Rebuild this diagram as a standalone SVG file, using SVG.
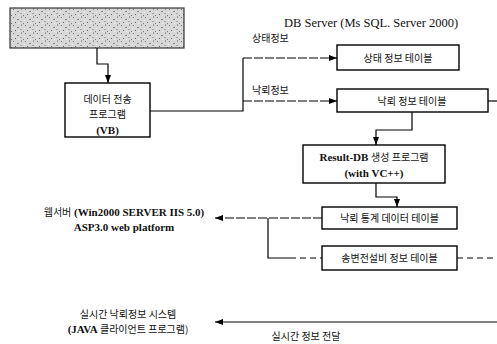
<svg xmlns="http://www.w3.org/2000/svg" width="497" height="344" viewBox="0 0 497 344">
<defs>
<pattern id="noise" width="12" height="8" patternUnits="userSpaceOnUse">
<rect width="12" height="8" fill="#d8d8d8"/>
<rect x="1" y="1" width="1" height="1" fill="#777"/>
<rect x="5" y="3" width="2" height="1" fill="#888"/>
<rect x="9" y="0" width="1" height="2" fill="#999"/>
<rect x="3" y="6" width="1" height="1" fill="#666"/>
<rect x="8" y="5" width="2" height="1" fill="#aaa"/>
<rect x="11" y="7" width="1" height="1" fill="#777"/>
<rect x="0" y="4" width="1" height="1" fill="#f0f0f0"/>
<rect x="6" y="7" width="1" height="1" fill="#f4f4f4"/>
</pattern>
<marker id="ah" viewBox="0 0 8 6" refX="8" refY="3" markerWidth="8" markerHeight="6" orient="auto" markerUnits="userSpaceOnUse">
<path d="M0,0 L8,3 L0,6 z" fill="#000"/>
</marker>
</defs>
<style>
.box{fill:#fff;stroke:#000;stroke-width:1.4}
.ln{fill:none;stroke:#000;stroke-width:1.2}
.dl{fill:none;stroke:#000;stroke-width:1.2;stroke-dasharray:9 2}
.dd{fill:none;stroke:#000;stroke-width:1;stroke-dasharray:6 4}
.ko{font-family:"Noto Sans CJK KR","Noto Sans",sans-serif;font-size:10px;fill:#111}
.en{font-family:"Liberation Serif","Noto Sans CJK KR",serif;font-size:12.5px;fill:#111}
.eb{font-family:"Liberation Serif","Noto Sans CJK KR",serif;font-size:11px;font-weight:bold;fill:#111}
</style>
<rect width="497" height="344" fill="#fff"/>

<g id="source">
<rect x="10" y="8" width="174" height="40" fill="url(#noise)" stroke="#333" stroke-width="1.2"/>
</g>

<g id="vb">
<rect class="box" x="65" y="83" width="85" height="54"/>
<text class="ko" x="107.5" y="103" text-anchor="middle">데이터 전송</text>
<text class="ko" x="107.5" y="118" text-anchor="middle">프로그램</text>
<text class="eb" x="107.5" y="134" text-anchor="middle">(VB)</text>
</g>

<g id="title">
<text class="en" x="284" y="27">DB Server (Ms SQL. Server 2000)</text>
</g>

<g id="state">
<rect class="box" x="337" y="45" width="122" height="25"/>
<text class="ko" x="398" y="61.5" text-anchor="middle">상태 정보 테이블</text>
</g>

<g id="lightning">
<rect class="box" x="337" y="89" width="151" height="23"/>
<text class="ko" x="412" y="104.5" text-anchor="middle">낙뢰 정보 테이블</text>
</g>

<g id="result">
<rect class="box" x="303" y="145" width="142" height="38"/>
<text x="374" y="161" text-anchor="middle"><tspan class="eb" font-size="10">Result-DB </tspan><tspan class="ko">생성 프로그램</tspan></text>
<text class="eb" x="374" y="177" text-anchor="middle" font-size="10">(with VC++)</text>
</g>

<g id="stats">
<rect class="box" x="322" y="207" width="135" height="22"/>
<text class="ko" x="389.5" y="222" text-anchor="middle">낙뢰 통계 데이터 테이블</text>
</g>

<g id="facility">
<rect class="box" x="322" y="246" width="135" height="24"/>
<text class="ko" x="389.5" y="262" text-anchor="middle">송변전설비 정보 테이블</text>
</g>

<g id="web">
<text class="eb" x="124" y="216" text-anchor="middle"><tspan class="ko" font-weight="normal">웹서버</tspan> (Win2000 SERVER IIS 5.0)</text>
<text class="eb" x="124" y="231" text-anchor="middle">ASP3.0 web platform</text>
</g>

<g id="client">
<text class="ko" x="128" y="318" text-anchor="middle">실시간 낙뢰정보 시스템</text>
<text x="128" y="333" text-anchor="middle"><tspan class="eb">(JAVA </tspan><tspan class="ko">클라이언트 프로그램)</tspan></text>
</g>

<g id="connectors">
<path class="ln" d="M97,48 V64 H108 V83" marker-end="url(#ah)"/>
<path class="ln" d="M150,111 H243 V58"/>
<path class="dl" d="M243,58 H337" marker-end="url(#ah)"/>
<path class="dl" d="M243,101 H337" marker-end="url(#ah)"/>
<text class="ko" x="252" y="42" font-size="9">상태정보</text>
<text class="ko" x="252" y="94" font-size="9">낙뢰정보</text>
<path class="ln" d="M488,101 H497"/>
<path class="ln" d="M412,112 V130 H376 V145" marker-end="url(#ah)"/>
<path class="ln" d="M376,183 V197 H397 V207" marker-end="url(#ah)"/>
<path class="dl" d="M322,218 H215" marker-end="url(#ah)"/>
<path class="ln" d="M268,218 V258 H290"/>
<path class="dd" d="M290,258 H322"/>
<path class="dd" d="M457,258 H497"/>
<path class="ln" d="M497,322 H215" stroke-width="1.5" marker-end="url(#ah)"/>
<text class="ko" x="306" y="340" text-anchor="middle">실시간 정보 전달</text>
</g>
</svg>
